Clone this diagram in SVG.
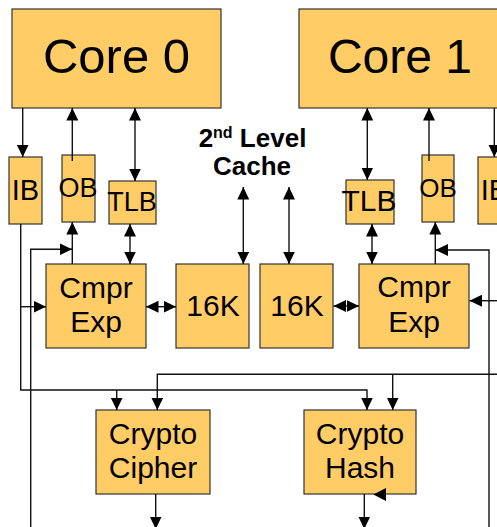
<svg xmlns="http://www.w3.org/2000/svg" width="497" height="527" viewBox="0 0 497 527">
<style>
.box{fill:#FFCC66;stroke:#333;stroke-width:1.2}
.t{font-family:"Liberation Sans",Arial,sans-serif;fill:#000;text-anchor:middle}
.w{fill:none;stroke:#111;stroke-width:1.4}
.a{marker-end:url(#ah)}
.d{marker-start:url(#ah);marker-end:url(#ah)}
</style>
<defs>
<marker id="ah" markerUnits="userSpaceOnUse" markerWidth="13" markerHeight="12" refX="12.5" refY="6" orient="auto-start-reverse">
<path d="M0,0 L12.5,6 L0,12 z" fill="#000"/>
</marker>
</defs>
<rect width="497" height="527" fill="#fff"/>
<g id="core0"><rect class="box" x="12" y="9" width="209" height="99"/><text class="t" x="116.5" y="73" font-size="49">Core 0</text></g>
<g id="core1"><rect class="box" x="299" y="9" width="210" height="99"/><text class="t" x="400" y="73" font-size="48">Core 1</text></g>
<g id="ib0"><rect class="box" x="9" y="157" width="33" height="67"/><text class="t" x="25.5" y="200" font-size="29">IB</text></g>
<g id="ob0"><rect class="box" x="62" y="155" width="33" height="67"/><text class="t" x="78" y="197" font-size="27">OB</text></g>
<g id="tlb0"><rect class="box" x="109" y="181" width="47" height="43"/><text class="t" x="132" y="211" font-size="27">TLB</text></g>
<g id="tlb1"><rect class="box" x="346" y="180" width="48" height="44"/><text class="t" x="369" y="211" font-size="30">TLB</text></g>
<g id="ob1"><rect class="box" x="422" y="155" width="32" height="67"/><text class="t" x="438" y="197" font-size="26">OB</text></g>
<g id="ib1"><rect class="box" x="478" y="157" width="33" height="67"/><text class="t" x="494.5" y="200" font-size="29">IB</text></g>
<g id="cache-label"><text class="t" x="252.5" y="147" font-size="26" font-weight="bold">2<tspan font-size="16" dy="-9">nd</tspan><tspan dy="9"> Level</tspan></text><text class="t" x="252" y="175" font-size="26" font-weight="bold">Cache</text></g>
<g id="cmpr0"><rect class="box" x="46" y="264" width="100" height="84"/><text class="t" x="96" y="298" font-size="30">Cmpr</text><text class="t" x="96" y="332" font-size="30">Exp</text></g>
<g id="l2a"><rect class="box" x="176" y="264" width="73" height="84"/><text class="t" x="213" y="316" font-size="30">16K</text></g>
<g id="l2b"><rect class="box" x="260" y="264" width="73" height="84"/><text class="t" x="297" y="316" font-size="30">16K</text></g>
<g id="cmpr1"><rect class="box" x="359" y="264" width="110" height="84"/><text class="t" x="414" y="297" font-size="30">Cmpr</text><text class="t" x="414" y="332" font-size="30">Exp</text></g>
<g id="cipher"><rect class="box" x="96" y="410" width="114" height="84"/><text class="t" x="153" y="444" font-size="30">Crypto</text><text class="t" x="153" y="478" font-size="30">Cipher</text></g>
<g id="hash"><rect class="box" x="304" y="410" width="112" height="84"/><text class="t" x="360" y="444" font-size="30">Crypto</text><text class="t" x="360" y="478" font-size="30">Hash</text></g>
<g id="connectors">
<line class="w a" x1="22.7" y1="108" x2="22.7" y2="157"/>
<line class="w a" x1="72.3" y1="161" x2="72.3" y2="108"/>
<line class="w d" x1="135" y1="108" x2="135" y2="181"/>
<line class="w d" x1="367.3" y1="108" x2="367.3" y2="180"/>
<line class="w a" x1="429" y1="161" x2="429" y2="108"/>
<line class="w a" x1="494.3" y1="108" x2="494.3" y2="157"/>
<line class="w d" x1="130" y1="224" x2="130" y2="264"/>
<line class="w d" x1="372" y1="224" x2="372" y2="264"/>
<line class="w a" x1="72.3" y1="264" x2="72.3" y2="222"/>
<line class="w a" x1="435.3" y1="264" x2="435.3" y2="222"/>
<line class="w d" x1="243.3" y1="187" x2="243.3" y2="264"/>
<line class="w d" x1="289" y1="187" x2="289" y2="264"/>
<line class="w d" x1="146" y1="306.7" x2="176" y2="306.7"/>
<line class="w d" x1="333.5" y1="306" x2="359" y2="306"/>
<polyline class="w a" points="30.7,527 30.7,249.3 72,249.3"/>
<polyline class="w a" points="489,527 489,250 435.5,250"/>
<line class="w a" x1="21" y1="306.7" x2="46" y2="306.7"/>
<line class="w a" x1="497" y1="300.7" x2="469.5" y2="300.7"/>
<polyline class="w a" points="20.7,224 20.7,390 367,390 367,410"/>
<line class="w a" x1="116.7" y1="390" x2="116.7" y2="410"/>
<polyline class="w a" points="497,374.3 157.3,374.3 157.3,410"/>
<line class="w a" x1="392.7" y1="374.3" x2="392.7" y2="410"/>
<line class="w a" x1="155.7" y1="494" x2="155.7" y2="529"/>
<line class="w a" x1="364.3" y1="494" x2="364.3" y2="529"/>
<path d="M373.3,494.5 L386,488 L386,501 z" fill="#000"/>
</g>
</svg>
